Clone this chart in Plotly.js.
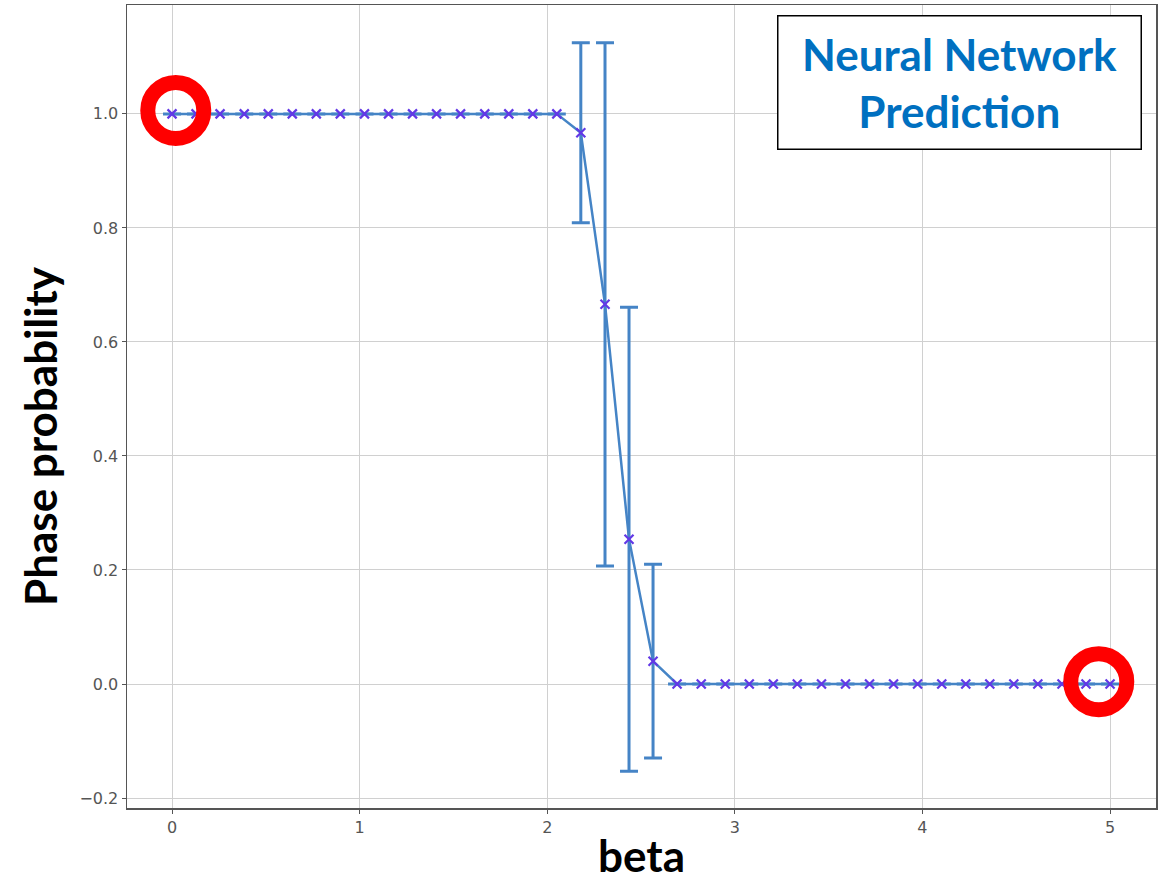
<!DOCTYPE html>
<html>
<head>
<meta charset="utf-8">
<script src="https://cdn.plot.ly/plotly-3.0.1.min.js"></script>
<style>html,body{margin:0;padding:0;background:#fff;}#chart{width:1169px;height:881px;}</style>
</head>
<body>
<div id="chart"></div>
<script>
// beta values (40 points from 0 to 5)
const beta = [0.000, 0.128, 0.256, 0.385, 0.513, 0.641, 0.769, 0.897, 1.026, 1.154,
              1.282, 1.410, 1.538, 1.667, 1.795, 1.923, 2.051, 2.179, 2.308, 2.436,
              2.564, 2.692, 2.821, 2.949, 3.077, 3.205, 3.333, 3.462, 3.590, 3.718,
              3.846, 3.974, 4.103, 4.231, 4.359, 4.487, 4.615, 4.744, 4.872, 5.000];
// predicted phase probability
const probability = [1, 1, 1, 1, 1, 1, 1, 1, 1, 1,
                     1, 1, 1, 1, 1, 1, 1, 0.967, 0.666, 0.254,
                     0.040, 0, 0, 0, 0, 0, 0, 0, 0, 0,
                     0, 0, 0, 0, 0, 0, 0, 0, 0, 0];
// error bar half-lengths
const errors = [0, 0, 0, 0, 0, 0, 0, 0, 0, 0,
                0, 0, 0, 0, 0, 0, 0, 0.158, 0.459, 0.407,
                0.170, 0, 0, 0, 0, 0, 0, 0, 0, 0,
                0, 0, 0, 0, 0, 0, 0, 0, 0, 0];
const xTickVals = [0, 1, 2, 3, 4, 5];
const xTickText = ['0', '1', '2', '3', '4', '5'];
const yTickVals = [-0.2, 0, 0.2, 0.4, 0.6, 0.8, 1.0];
const yTickText = ['\u22120.2', '0.0', '0.2', '0.4', '0.6', '0.8', '1.0'];
const highlightX = [0.02, 4.94];
const highlightY = [1.006, 0.004];

const lineColor = '#4584c6';

const traces = [
  {
    x: beta, y: probability, type: 'scatter', mode: 'lines',
    line: {color: lineColor, width: 2.5},
    error_y: {type: 'data', array: errors, visible: true, color: lineColor, thickness: 3, width: 9},
    hoverinfo: 'skip', showlegend: false
  },
  {
    x: beta, y: probability, type: 'scatter', mode: 'markers',
    marker: {symbol: 'x-thin', size: 9, color: '#6238e6', line: {color: '#6238e6', width: 2.2}},
    showlegend: false
  }
];

const shapes = highlightX.map((cx, i) => ({
  type: 'circle', xref: 'x', yref: 'y',
  xsizemode: 'pixel', ysizemode: 'pixel',
  xanchor: cx, yanchor: highlightY[i],
  x0: -28, x1: 28, y0: -28, y1: 28,
  line: {color: '#ff0000', width: 15},
  layer: 'above'
}));

const layout = {
  width: 1169, height: 881,
  margin: {l: 127, r: 13, t: 5, b: 73},
  paper_bgcolor: '#ffffff', plot_bgcolor: '#ffffff',
  showlegend: false,
  xaxis: {
    range: [-0.24, 5.245],
    tickvals: xTickVals, ticktext: xTickText,
    showgrid: true, gridcolor: '#d0d0d0', gridwidth: 1,
    zeroline: false,
    showline: true, mirror: true, linecolor: '#555', linewidth: 1.5,
    ticks: 'outside', ticklen: 4, tickcolor: '#555',
    tickfont: {family: 'DejaVu Sans', size: 16, color: '#555'},
    title: {text: 'beta', font: {family: 'Lato', size: 44, color: '#000', weight: 'bold'}, standoff: 8}
  },
  yaxis: {
    range: [-0.2175, 1.191],
    tickvals: yTickVals, ticktext: yTickText,
    showgrid: true, gridcolor: '#d0d0d0', gridwidth: 1,
    zeroline: false,
    showline: true, mirror: true, linecolor: '#555', linewidth: 1.5,
    ticks: 'outside', ticklen: 4, tickcolor: '#555',
    tickfont: {family: 'DejaVu Sans', size: 16, color: '#555'}
  },
  shapes: shapes,
  annotations: [
    {
      xref: 'paper', yref: 'paper', x: -0.0845, y: 0.4633,
      xanchor: 'center', yanchor: 'middle', textangle: -90,
      text: '<b>Phase probability</b>', showarrow: false,
      font: {family: 'Lato', size: 44, color: '#000'}
    },
    {
      xref: 'paper', yref: 'paper', x: 0.809, y: 0.9035,
      xanchor: 'center', yanchor: 'middle',
      text: '<b>Neural Network<br>Prediction</b>',
      showarrow: false,
      font: {family: 'Lato', size: 44, color: '#0070c0'},
      bgcolor: '#ffffff', bordercolor: '#000', borderwidth: 1.5, borderpad: 0,
      width: 362, height: 132, align: 'center'
    }
  ]
};

Plotly.newPlot('chart', traces, layout, {displayModeBar: false, staticPlot: true});
</script>
</body>
</html>
